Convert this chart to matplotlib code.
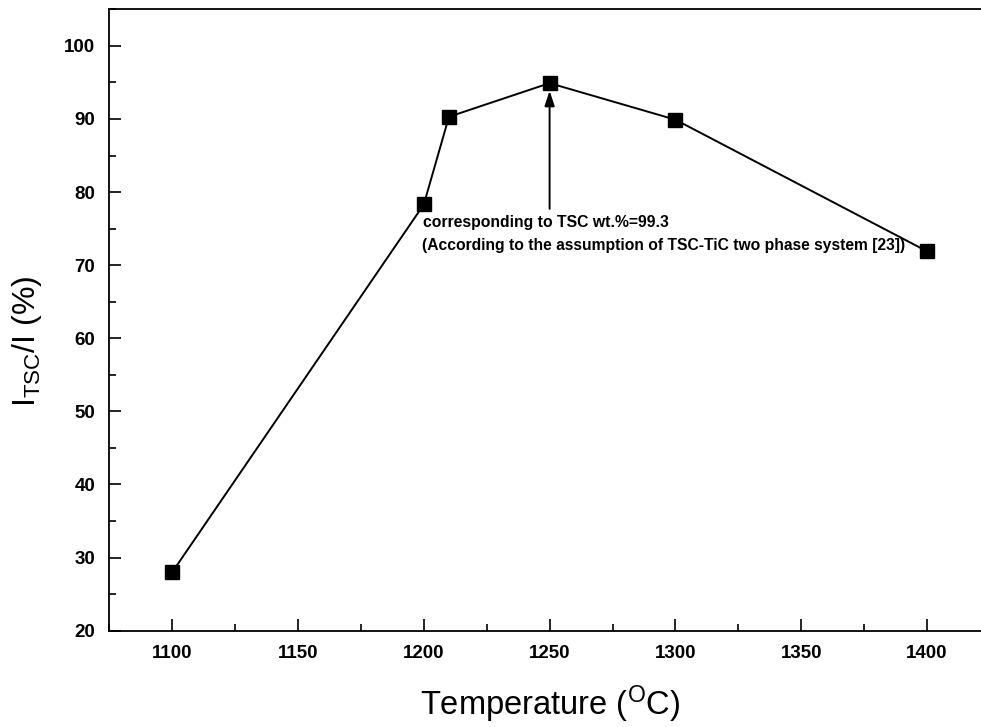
import matplotlib
matplotlib.use('Agg')
import matplotlib.pyplot as plt
from matplotlib.ticker import MultipleLocator

plt.rcParams['font.family'] = ['Liberation Sans', 'DejaVu Sans']
plt.rcParams['mathtext.fontset'] = 'custom'
plt.rcParams['mathtext.rm'] = 'Liberation Sans'
plt.rcParams['mathtext.it'] = 'Liberation Sans:italic'
plt.rcParams['mathtext.bf'] = 'Liberation Sans:bold'

# data
temperature = [1100, 1200, 1210, 1250, 1300, 1400]
ratio = [28.0, 78.3, 90.3, 94.9, 89.9, 71.9]

note1 = "corresponding to TSC wt.%=99.3"
note2 = "(According to the assumption of TSC-TiC two phase system [23])"

fig = plt.figure(figsize=(9.81, 7.27), dpi=100)
# axes runs a little past the right edge of the picture (cropped original)
ax = fig.add_axes([109.3 / 981, 1 - 630.7 / 727, 880.6 / 981, 621.4 / 727])

ax.plot(temperature, ratio, color='black', lw=1.4, marker='s', ms=10.5,
        markerfacecolor='black', markeredgecolor='black', zorder=3)

ax.annotate('', xy=(1250, 93.85), xytext=(1250, 77.7),
            arrowprops=dict(arrowstyle='-|>,head_length=0.9,head_width=0.3',
                            color='black', lw=1.4, shrinkA=0, shrinkB=0))
ax.text(1199.6, 75.25, note1, fontsize=11.35, fontweight='bold', va='baseline', ha='left')
ax.text(1199.2, 72.05, note2, fontsize=11.25, fontweight='bold', va='baseline', ha='left')

ax.set_xlim(1075, 1425)
ax.set_ylim(20, 105)
ax.xaxis.set_major_locator(MultipleLocator(50))
ax.xaxis.set_minor_locator(MultipleLocator(25))
ax.yaxis.set_major_locator(MultipleLocator(10))
ax.yaxis.set_minor_locator(MultipleLocator(5))

ax.tick_params(which='both', direction='in', top=False, right=False, width=1.2,
               labelsize=13.5, pad=10)
ax.tick_params(which='major', length=8.5)
ax.tick_params(which='minor', length=5)
for lab in ax.get_xticklabels() + ax.get_yticklabels():
    lab.set_fontweight('bold')

for side in ['left', 'bottom', 'top']:
    ax.spines[side].set_linewidth(1.3)
ax.spines['right'].set_visible(False)

ax.set_xlabel(r'Temperature ($^{\mathrm{O}}$C)', fontsize=23.5, labelpad=16)
ax.set_ylabel(r'I$_{\mathrm{TSC}}$/I (%)', fontsize=23)
ax.yaxis.set_label_coords(-0.074, 0.466)

fig.savefig('out.png', dpi=100)
